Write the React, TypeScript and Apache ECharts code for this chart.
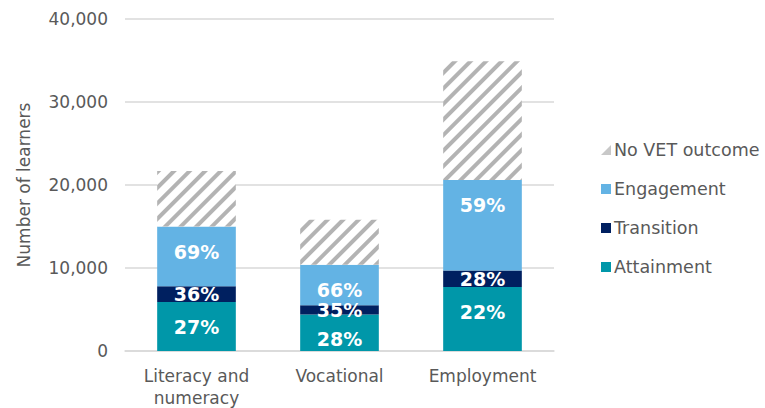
import React, { useEffect, useRef } from "react";
import * as echarts from "echarts";

const categories = ["Literacy and\nnumeracy", "Vocational", "Employment"];
const attainment = [5900, 4400, 7700];
const transition = [1900, 1100, 2000];
const engagement = [7200, 4900, 10900];
const noOutcome = [6700, 5400, 14300];
const attainmentPct = ["27%", "28%", "22%"];
const transitionPct = ["36%", "35%", "28%"];
const engagementPct = ["69%", "66%", "59%"];
const yTicks = { min: 0, max: 40000, interval: 10000 };

const FONT = "DejaVu Sans";

export default function App() {
  const ref = useRef<HTMLDivElement>(null);
  useEffect(() => {
    if (!ref.current) return;
    const chart = echarts.init(ref.current, null, { renderer: "svg" });
    const pctLabel = (arr: string[], pos: any) => ({
      show: true,
      position: pos,
      align: "center",
      verticalAlign: "middle",
      color: "#FFFFFF",
      fontFamily: FONT,
      fontWeight: "bold",
      fontSize: 19,
      formatter: (p: any) => arr[p.dataIndex],
    });
    chart.setOption({
      animation: false,
      grid: { left: 125, right: 211, top: 19, bottom: 57, outerBoundsMode: "none", containLabel: false },
      legend: {
        orient: "vertical",
        left: 596,
        top: 135,
        itemWidth: 10,
        itemHeight: 10,
        itemGap: 19,
        textStyle: { fontFamily: FONT, fontSize: 17.5, color: "#595959", lineHeight: 20, padding: [0, 0, 0, -2] },
        data: [
          { name: "No VET outcome", icon: "path://M10,0L10,10L0,10Z", itemStyle: { color: "#C8C8C8", decal: "none" } },
          { name: "Engagement", icon: "rect" },
          { name: "Transition", icon: "rect" },
          { name: "Attainment", icon: "rect" },
        ],
      },
      xAxis: {
        type: "category",
        data: categories,
        axisLine: { lineStyle: { color: "#D9D9D9", width: 1.5 } },
        axisTick: { show: false },
        axisLabel: { fontFamily: FONT, fontSize: 17, color: "#595959", margin: 14, lineHeight: 22 },
      },
      yAxis: {
        type: "value",
        min: yTicks.min,
        max: yTicks.max,
        interval: yTicks.interval,
        name: "Number of learners",
        nameLocation: "middle",
        nameGap: 93,
        nameTextStyle: { fontFamily: FONT, fontSize: 17, color: "#595959" },
        axisLine: { show: false },
        axisTick: { show: false },
        splitLine: { lineStyle: { color: "#D9D9D9", width: 1.5 } },
        axisLabel: {
          fontFamily: FONT,
          fontSize: 17,
          color: "#595959",
          margin: 17,
          formatter: (v: number) => v.toLocaleString("en-US"),
        },
      },
      series: [
        {
          name: "Attainment",
          type: "bar",
          stack: "a",
          barWidth: "55%",
          data: attainment,
          itemStyle: { color: "#0097A9" },
          label: pctLabel(attainmentPct, ["50%", 25]),
        },
        {
          name: "Transition",
          type: "bar",
          stack: "a",
          data: transition,
          itemStyle: { color: "#002060" },
          label: pctLabel(transitionPct, "inside"),
        },
        {
          name: "Engagement",
          type: "bar",
          stack: "a",
          data: engagement,
          itemStyle: { color: "#63B3E4" },
          label: pctLabel(engagementPct, ["50%", 25]),
        },
        {
          name: "No VET outcome",
          type: "bar",
          stack: "a",
          data: noOutcome,
          itemStyle: {
            color: "#FFFFFF",
            decal: {
              symbol: "rect",
              symbolSize: 1,
              color: "#B3B3B3",
              dashArrayX: [[1, 0]],
              dashArrayY: [4, 6.5],
              rotation: -Math.PI / 4,
            },
          },
        },
      ],
    });
    return () => chart.dispose();
  }, []);
  return <div ref={ref} style={{ width: 765, height: 408, position: "absolute", left: 0, top: 0 }} />;
}
